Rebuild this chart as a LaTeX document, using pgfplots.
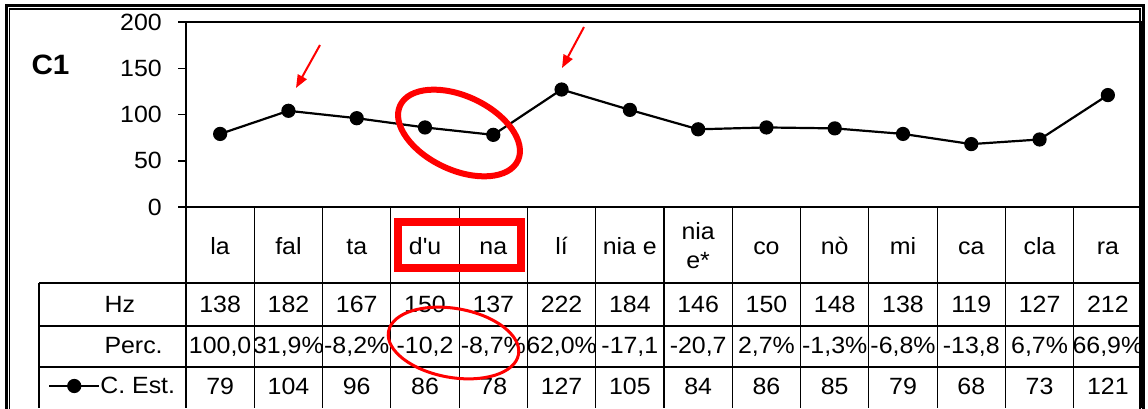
\documentclass[border=0pt]{standalone}
\usepackage{fontspec}
\setmainfont{Liberation Sans}[FakeStretch=1.06]
\usepackage{pgfplots}
\pgfplotsset{compat=1.18}
\usetikzlibrary{arrows.meta}
\newcommand\f{\fontsize{23.5}{27}\selectfont}

\begin{document}
\begin{tikzpicture}
\begin{scope}[x=1pt,y=-1pt]
  \path[use as bounding box] (0,0) rectangle (1148,408);
  \coordinate (O) at (186,207);
  \begin{scope}
    \clip (0,0) rectangle (1148,408);
    % double frame round the chart
    \draw[line width=3pt] (6,5.5) rectangle (1143.5,440);
    \draw[line width=1.2pt] (9.5,9) rectangle (1140,440);
  \end{scope}
\end{scope}

\begin{axis}[at={(O)}, anchor=south west, scale only axis,
  width=956pt, height=185pt,
  xmin=-0.5, xmax=13.5, ymin=0, ymax=200,
  xtick=\empty, ytick={0,50,100,150,200}, ytick pos=left,
  axis line style={line width=2pt},
  tick align=outside, major tick length=8pt, tick style={black, line width=1.5pt},
  yticklabel style={font=\f, inner sep=0pt, xshift=-16pt},
  /pgf/number format/assume math mode=true,
  clip=false,
  legend style={at={(axis description cs:-0.1444,-0.9676)}, anchor=west,
    draw=none, fill=none, font=\f, inner sep=0pt, nodes={inner sep=0pt},
    /tikz/every even column/.append style={column sep=2pt}},
  legend image code/.code={\draw[mark repeat=2, mark phase=2, #1] plot coordinates {(0pt,0pt) (25pt,0pt) (50pt,0pt)};}]
  \addplot[black, line width=2.2pt, mark=*, mark size=6pt, mark options={solid}]
    coordinates {(0,79) (1,104) (2,96) (3,86) (4,78) (5,127) (6,105) (7,84) (8,86) (9,85) (10,79) (11,68) (12,73) (13,121)};
  \addlegendentry{C. Est.}
\end{axis}

\begin{scope}[x=1pt,y=-1pt]
\node[font=\fontsize{28}{30}\selectfont\bfseries, anchor=base west] at (28,75) {C1};

% data table under the plot
\def\w{68.2857}
\foreach \i in {0,...,14} \draw[line width=1.2pt] ({186+\i*\w},207) -- ({186+\i*\w},408);
\foreach \y in {283,326,367} \draw[line width=1.2pt] (39,\y) -- (1142,\y);
\draw[line width=1.2pt] (39,283) -- (39,408);

\foreach \t [count=\i from 0] in {la,fal,ta,d\textquotesingle u,na,lí,nia e,,co,nò,mi,ca,cla,ra}
  \node[font=\f, anchor=base] at ({186+(\i+0.5)*\w},254) {\t};
\node[font=\f, anchor=base] at ({186+7.5*\w},240) {nia};
\node[font=\f, anchor=base] at ({186+7.5*\w},268) {e*};

\node[font=\f, anchor=base west] at (101,312) {Hz};
\node[font=\f, anchor=base west] at (101,353) {Perc.};
\foreach \t [count=\i from 0] in {138,182,167,150,137,222,184,146,150,148,138,119,127,212}
  \node[font=\f, anchor=base] at ({186+(\i+0.5)*\w},312) {\t};
\foreach \t [count=\i from 0] in {{100,0},{31,9\%},{-8,2\%},{-10,2},{-8,7\%},{62,0\%},{-17,1},{-20,7},{2,7\%},{-1,3\%},{-6,8\%},{-13,8},{6,7\%},{66,9\%}}
  \node[font=\f, anchor=base, inner sep=0pt] at ({186+(\i+0.5)*\w},353) {\t};
\foreach \t [count=\i from 0] in {79,104,96,86,78,127,105,84,86,85,79,68,73,121}
  \node[font=\f, anchor=base] at ({186+(\i+0.5)*\w},394) {\t};

% red marks
\draw[red, line width=8pt] (398,222) rectangle (521,268);
\draw[red, line width=6pt, rotate around={-25:(459,133)}] (459,133) ellipse (65 and 37);
\draw[red, line width=3pt, rotate around={-10:(453.5,343)}] (453.5,343) ellipse (66 and 34.5);
\draw[red, line width=2pt, -{Triangle[length=13pt,width=10pt]}] (320,45) -- (296,88);
\draw[red, line width=2pt, -{Triangle[length=13pt,width=10pt]}] (584,27) -- (562,68);
\end{scope}
\end{tikzpicture}
\end{document}
